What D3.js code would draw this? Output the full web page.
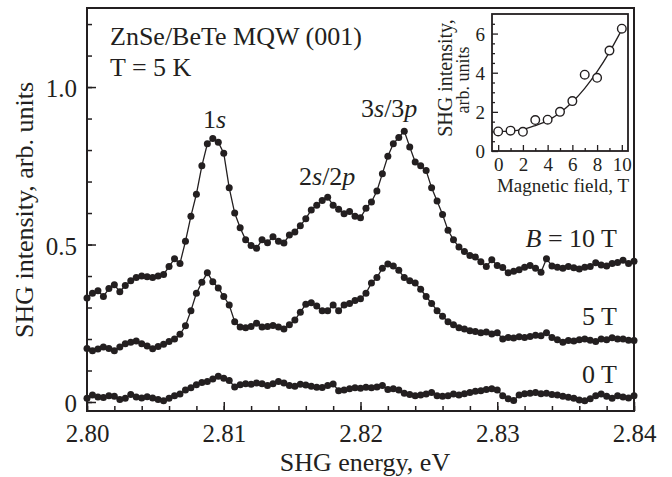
<!DOCTYPE html>
<html><head><meta charset="utf-8">
<script src="https://cdn.jsdelivr.net/npm/d3@7"></script>
<style>
body{margin:0;background:#fff}
svg{display:block}
text{font-family:"Liberation Serif","Times New Roman",serif;fill:#231f20}
</style>
</head><body><svg id="c" width="672" height="477"></svg>
<script>
// ---- main chart data ----
const energies = [
2.8000,2.8004,2.8008,2.8012,2.8016,2.8020,2.8024,2.8028,2.8032,2.8036,
2.8040,2.8044,2.8048,2.8052,2.8056,2.8060,2.8064,2.8068,2.8072,2.8076,
2.8080,2.8084,2.8088,2.8092,2.8096,2.8100,2.8104,2.8108,2.8112,2.8116,
2.8120,2.8124,2.8128,2.8132,2.8136,2.8140,2.8144,2.8148,2.8152,2.8156,
2.8160,2.8164,2.8168,2.8172,2.8176,2.8180,2.8184,2.8188,2.8192,2.8196,
2.8200,2.8204,2.8208,2.8212,2.8216,2.8220,2.8224,2.8228,2.8232,2.8236,
2.8240,2.8244,2.8248,2.8252,2.8256,2.8260,2.8264,2.8268,2.8272,2.8276,
2.8280,2.8284,2.8288,2.8292,2.8296,2.8300,2.8304,2.8308,2.8312,2.8316,
2.8320,2.8324,2.8328,2.8332,2.8336,2.8340,2.8344,2.8348,2.8352,2.8356,
2.8360,2.8364,2.8368,2.8372,2.8376,2.8380,2.8384,2.8388,2.8392,2.8396,
2.8400];
const shg10T = [
0.330,0.345,0.353,0.335,0.360,0.372,0.350,0.370,0.385,0.395,
0.400,0.398,0.395,0.400,0.405,0.430,0.455,0.440,0.510,0.590,
0.660,0.750,0.820,0.837,0.825,0.790,0.680,0.600,0.553,0.515,
0.497,0.488,0.515,0.506,0.525,0.510,0.505,0.530,0.540,0.560,
0.582,0.610,0.625,0.640,0.650,0.625,0.612,0.598,0.605,0.590,
0.585,0.615,0.635,0.670,0.725,0.780,0.820,0.840,0.860,0.810,
0.762,0.750,0.735,0.680,0.638,0.595,0.545,0.515,0.492,0.478,
0.465,0.460,0.445,0.430,0.452,0.433,0.427,0.410,0.415,0.420,
0.428,0.433,0.425,0.412,0.455,0.432,0.428,0.425,0.430,0.426,
0.422,0.428,0.430,0.442,0.435,0.432,0.440,0.443,0.450,0.440,
0.447];
const shg5T = [
0.170,0.163,0.168,0.175,0.170,0.163,0.175,0.185,0.190,0.194,
0.185,0.178,0.169,0.176,0.183,0.192,0.200,0.215,0.242,0.290,
0.345,0.380,0.410,0.382,0.362,0.335,0.308,0.255,0.238,0.236,
0.240,0.250,0.238,0.240,0.243,0.238,0.232,0.245,0.260,0.285,
0.310,0.315,0.305,0.290,0.290,0.308,0.290,0.308,0.313,0.322,
0.328,0.345,0.378,0.395,0.425,0.438,0.432,0.418,0.395,0.385,
0.378,0.358,0.335,0.313,0.290,0.272,0.255,0.245,0.236,0.232,
0.226,0.224,0.220,0.222,0.216,0.220,0.200,0.205,0.203,0.207,
0.205,0.208,0.212,0.210,0.220,0.205,0.198,0.190,0.195,0.194,
0.198,0.200,0.196,0.192,0.200,0.198,0.204,0.200,0.200,0.196,
0.195];
const shg0T = [
0.012,0.022,0.016,0.014,0.020,0.018,0.008,0.012,0.024,0.016,
0.013,0.017,0.013,0.008,0.004,0.012,0.020,0.025,0.038,0.045,
0.055,0.062,0.065,0.073,0.082,0.075,0.068,0.048,0.055,0.058,
0.056,0.060,0.058,0.052,0.058,0.065,0.060,0.052,0.050,0.056,
0.054,0.050,0.047,0.046,0.052,0.057,0.036,0.038,0.042,0.045,
0.044,0.047,0.045,0.048,0.052,0.040,0.042,0.038,0.028,0.024,
0.020,0.022,0.025,0.030,0.020,0.018,0.020,0.025,0.022,0.026,
0.030,0.034,0.036,0.040,0.042,0.038,0.020,0.010,0.005,0.022,
0.026,0.028,0.030,0.026,0.028,0.024,0.022,0.018,0.015,0.012,
0.006,0.004,0.010,0.020,0.025,0.018,0.012,0.020,0.016,0.013,
0.020];
const xTicks = [2.80, 2.81, 2.82, 2.83, 2.84];
const xTickLabels = ["2.80", "2.81", "2.82", "2.83", "2.84"];
const yTicks = [0, 0.5, 1.0];
const yTickLabels = ["0", "0.5", "1.0"];

// ---- inset data ----
const fieldB = [0, 1, 2, 3, 4, 5, 6, 7, 8, 9, 10];
const insetSHG = [1.0, 1.04, 0.98, 1.58, 1.60, 2.0, 2.55, 3.9, 3.74, 5.13, 6.25];
const fitB = [0, 1, 2, 3, 4, 5, 6, 7, 8, 9, 10];
const fitSHG = [1.0, 1.02, 1.1, 1.3, 1.55, 1.95, 2.5, 3.2, 4.05, 5.05, 6.2];
const insetXTicks = [0, 2, 4, 6, 8, 10];
const insetXTickLabels = ["0", "2", "4", "6", "8", "10"];
const insetYTicks = [0, 2, 4, 6];
const insetYTickLabels = ["0", "2", "4", "6"];

const ink = "#231f20";
const serif = '"Liberation Serif","Times New Roman",serif';
const svg = d3.select("#c");

function styleAxis(g, w) {
  g.attr("font-family", serif);
  g.select(".domain").remove();
  g.selectAll("line").attr("stroke", ink).attr("stroke-width", w);
}

// ---- main scales ----
const x = d3.scaleLinear().domain([2.8, 2.84]).range([87, 634]);
const y = d3.scaleLinear().domain([-0.0286, 1.251]).range([411, 8]);

// minor ticks
const gxm = svg.append("g").attr("transform", "translate(0,411)")
  .call(d3.axisBottom(x).tickValues(d3.range(0, 21).map(i => 2.8 + i * 0.002)).tickSize(-5).tickSizeOuter(0).tickFormat(""));
const gym = svg.append("g").attr("transform", "translate(87,0)")
  .call(d3.axisLeft(y).tickValues(d3.range(0, 13).map(i => i * 0.1)).tickSize(-5).tickSizeOuter(0).tickFormat(""));
// major ticks
const gx = svg.append("g").attr("transform", "translate(0,411)")
  .call(d3.axisBottom(x).tickValues(xTicks).tickSize(-9).tickSizeOuter(0).tickFormat((d, i) => xTickLabels[i]));
const gy = svg.append("g").attr("transform", "translate(87,0)")
  .call(d3.axisLeft(y).tickValues(yTicks).tickSize(-9).tickSizeOuter(0).tickFormat((d, i) => yTickLabels[i]));
[gxm, gym, gx, gy].forEach(g => styleAxis(g, 1.5));
gx.selectAll("text").attr("y", 31).attr("dy", 0).attr("font-size", 25).attr("fill", ink);
gy.selectAll("text").attr("x", -10).attr("dy", "0.38em").attr("font-size", 25).attr("fill", ink);

// series
const line = d3.line().x((d, i) => x(energies[i])).y(d => y(d));
[shg10T, shg5T, shg0T].forEach(s => {
  svg.append("path").datum(s).attr("d", line).attr("fill", "none").attr("stroke", ink).attr("stroke-width", 1.3);
  svg.append("g").selectAll("circle").data(s).join("circle")
    .attr("cx", (d, i) => x(energies[i])).attr("cy", d => y(d)).attr("r", 3.5).attr("fill", ink);
});

// frame
svg.append("rect").attr("x", 87).attr("y", 8).attr("width", 547).attr("height", 403)
  .attr("fill", "none").attr("stroke", ink).attr("stroke-width", 2);

// axis titles
svg.append("text").attr("x", 365).attr("y", 471).attr("text-anchor", "middle")
  .style("font-size", "26px").text("SHG energy, eV");
svg.append("text").attr("transform", "translate(33,210) rotate(-90)").attr("text-anchor", "middle")
  .style("font-size", "26px").text("SHG intensity, arb. units");

// annotations
svg.append("text").attr("x", 110).attr("y", 45).style("font-size", "26px").text("ZnSe/BeTe MQW (001)");
svg.append("text").attr("x", 110).attr("y", 76).style("font-size", "26px").text("T = 5 K");
function peakLabel(xp, yp, parts) {
  const t = svg.append("text").attr("x", xp).attr("y", yp).style("font-size", "26px");
  parts.forEach(p => t.append("tspan").style("font-style", p[1] ? "italic" : "normal").text(p[0]));
  return t;
}
peakLabel(203, 128, [["1", 0], ["s", 1]]);
peakLabel(299, 185, [["2", 0], ["s", 1], ["/2", 0], ["p", 1]]);
peakLabel(361, 117, [["3", 0], ["s", 1], ["/3", 0], ["p", 1]]);
peakLabel(617, 247, [["B", 1], [" = 10 T", 0]]).attr("text-anchor", "end");
svg.append("text").attr("x", 617).attr("y", 325).attr("text-anchor", "end").style("font-size", "26px").text("5 T");
svg.append("text").attr("x", 617).attr("y", 383).attr("text-anchor", "end").style("font-size", "26px").text("0 T");

// ---- inset ----
const ix = d3.scaleLinear().domain([-0.5, 10.5]).range([492, 628]);
const iy = d3.scaleLinear().domain([0, 7]).range([151, 14]);
svg.append("rect").attr("x", 492).attr("y", 14).attr("width", 136).attr("height", 137).attr("fill", "#fff");
const ixm = svg.append("g").attr("transform", "translate(0,151)")
  .call(d3.axisBottom(ix).tickValues([1, 3, 5, 7, 9]).tickSize(-3).tickSizeOuter(0).tickFormat(""));
const iym = svg.append("g").attr("transform", "translate(492,0)")
  .call(d3.axisLeft(iy).tickValues([0.5, 1, 1.5, 2.5, 3, 3.5, 4.5, 5, 5.5, 6.5]).tickSize(-3).tickSizeOuter(0).tickFormat(""));
const ixM = svg.append("g").attr("transform", "translate(0,151)")
  .call(d3.axisBottom(ix).tickValues(insetXTicks).tickSize(-6).tickSizeOuter(0).tickFormat((d, i) => insetXTickLabels[i]));
const iyM = svg.append("g").attr("transform", "translate(492,0)")
  .call(d3.axisLeft(iy).tickValues(insetYTicks).tickSize(-6).tickSizeOuter(0).tickFormat((d, i) => insetYTickLabels[i]));
[ixm, iym, ixM, iyM].forEach(g => styleAxis(g, 1.3));
ixM.selectAll("text").attr("y", 20).attr("dy", 0).attr("font-size", 19).attr("fill", ink);
iyM.selectAll("text").attr("x", -7).attr("dy", "0.36em").attr("font-size", 19).attr("fill", ink);

const fitLine = d3.line().curve(d3.curveMonotoneX).x((d, i) => ix(fitB[i])).y(d => iy(d));
svg.append("path").datum(fitSHG).attr("d", fitLine).attr("fill", "none").attr("stroke", ink).attr("stroke-width", 1.3);
svg.append("g").selectAll("circle").data(insetSHG).join("circle")
  .attr("cx", (d, i) => ix(fieldB[i])).attr("cy", d => iy(d)).attr("r", 4.3)
  .attr("fill", "#fff").attr("stroke", ink).attr("stroke-width", 1.4);
svg.append("rect").attr("x", 492).attr("y", 14).attr("width", 136).attr("height", 137)
  .attr("fill", "none").attr("stroke", ink).attr("stroke-width", 1.8);

svg.append("text").attr("x", 563).attr("y", 192).attr("text-anchor", "middle")
  .style("font-size", "19px").text("Magnetic field, T");
svg.append("text").attr("transform", "translate(452,78) rotate(-90)").attr("text-anchor", "middle")
  .style("font-size", "20px").text("SHG intensity,");
svg.append("text").attr("transform", "translate(469,80) rotate(-90)").attr("text-anchor", "middle")
  .style("font-size", "18px").text("arb. units");
</script>
</body></html>
